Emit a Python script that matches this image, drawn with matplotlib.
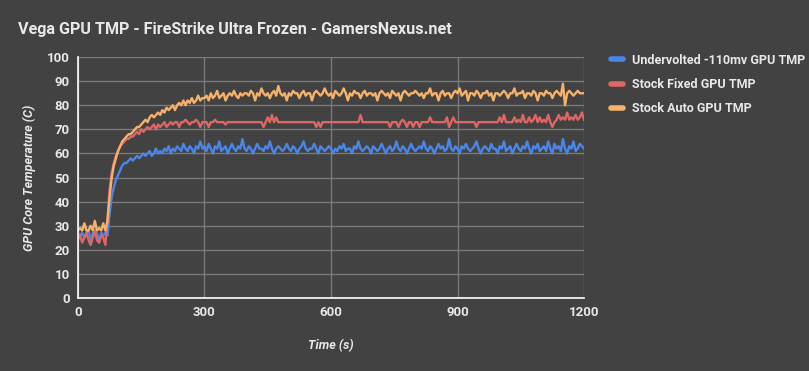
import matplotlib
matplotlib.use("Agg")
import matplotlib.pyplot as plt
import numpy as np

# time axis: one sample every 5 s, 0..1200
time_s = np.arange(0, 1205, 5)

# values (deg C)
undervolted = [
    27, 26, 27, 25, 27, 28, 24, 27, 26, 27, 23, 27, 26, 27,
    26, 35, 42, 46, 49, 51, 53, 55, 56, 56, 57, 58, 57, 58, 59, 58,
    59, 60, 59, 60, 61, 59, 60, 62, 60, 61, 60, 62, 61, 63, 60, 62,
    61, 63, 62, 61, 64, 62, 61, 63, 62, 60, 63, 62, 65, 62,
    63, 61, 64, 62, 60, 63, 62, 65, 61, 62, 63, 60, 62, 64, 62, 61, 63, 62, 66, 62,
    61, 63, 62, 60, 62, 64, 62, 62, 61, 63, 62, 65, 62, 60, 62, 63, 62, 61, 62, 64,
    62, 61, 63, 62, 60, 62, 63, 65, 62, 61, 62, 62, 64, 62, 60, 63, 62, 61, 62, 63,
    62, 60, 62, 61, 63, 62, 64, 61, 62, 62, 60, 63, 62, 65, 62, 61, 62, 63, 62, 60,
    63, 62, 61, 62, 64, 62, 60, 62, 63, 61, 62, 65, 62, 61, 63, 62, 60, 62, 64, 62,
    61, 62, 63, 62, 65, 62, 61, 63, 62, 60, 62, 64, 62, 63, 61, 62, 66, 62, 61, 63,
    62, 60, 63, 62, 64, 62, 61, 62, 63, 65, 62, 60, 62, 63, 62, 61, 64, 62, 62, 60,
    63, 62, 65, 61, 62, 63, 60, 62, 64, 62, 61, 63, 62, 65, 62, 60, 63, 62, 64, 61,
    62, 63, 61, 65, 62, 60, 64, 62, 63, 61, 66, 62, 60, 63, 62, 65, 61, 62, 64, 63,
    62,
]

stock_fixed = [
    24, 26, 23, 25, 27, 24, 22, 25, 28, 24, 23, 26, 25, 22,
    33, 45, 52, 56, 59, 61, 63, 64, 65, 66, 66, 67, 67, 68, 69, 68,
    70, 69, 70, 71, 70, 71, 72, 70, 72, 71, 72, 73, 71, 72, 73, 72,
    73, 73, 71, 73, 73, 74, 73, 72, 73, 73, 74, 73, 71, 73,
    73, 73, 71, 73, 73, 74, 73, 73, 73, 73, 72, 73, 73, 73, 73, 73, 73, 73, 73, 73,
    73, 73, 73, 73, 73, 73, 73, 73, 71, 73, 75, 73, 76, 73, 75, 73, 73, 73, 73, 73,
    73, 73, 73, 73, 73, 73, 73, 73, 73, 73, 73, 73, 73, 71, 73, 71, 73, 73, 73, 73,
    73, 73, 73, 73, 73, 73, 73, 73, 73, 73, 73, 73, 73, 73, 76, 73, 73, 73, 73, 73,
    73, 73, 73, 73, 73, 73, 73, 73, 71, 73, 73, 73, 71, 73, 74, 73, 71, 73, 73, 71,
    73, 73, 71, 73, 73, 73, 73, 75, 73, 73, 73, 73, 73, 73, 73, 75, 71, 73, 75, 73,
    73, 73, 73, 73, 73, 73, 73, 73, 73, 71, 73, 73, 73, 73, 73, 73, 73, 73, 73, 73,
    75, 73, 76, 73, 73, 73, 73, 75, 73, 74, 73, 76, 73, 73, 75, 73, 74, 76, 73, 75,
    73, 74, 73, 76, 73, 71, 73, 74, 76, 74, 75, 74, 77, 74, 75, 74, 76, 74, 75, 77,
    74,
]

stock_auto = [
    28, 29, 28, 31, 28, 28, 30, 28, 32, 28, 29, 28, 31, 28,
    32, 42, 50, 55, 58, 61, 63, 65, 66, 67, 68, 68, 69, 70, 71, 71,
    72, 73, 74, 73, 75, 76, 75, 76, 77, 76, 78, 77, 79, 78, 79, 80,
    78, 80, 81, 80, 82, 80, 82, 81, 83, 81, 82, 84, 82, 83,
    83, 84, 82, 85, 83, 84, 86, 83, 84, 85, 82, 84, 85, 84, 86, 84, 83, 85, 84, 85,
    85, 84, 86, 85, 82, 85, 84, 87, 85, 84, 85, 83, 85, 86, 84, 88, 85, 84, 85, 82,
    85, 84, 86, 85, 85, 83, 85, 86, 84, 85, 85, 82, 85, 86, 85, 84, 85, 87, 85, 84,
    85, 83, 86, 85, 84, 85, 87, 85, 82, 85, 84, 86, 85, 85, 83, 85, 86, 84, 85, 85,
    84, 85, 82, 85, 86, 85, 84, 85, 83, 86, 85, 84, 85, 82, 85, 86, 85, 84, 85, 85,
    86, 85, 84, 85, 83, 85, 85, 87, 84, 85, 85, 82, 85, 86, 84, 85, 85, 83, 85, 86,
    85, 87, 84, 85, 86, 82, 85, 85, 84, 86, 85, 83, 85, 85, 86, 84, 85, 82, 85, 85,
    84, 85, 86, 85, 83, 85, 85, 87, 84, 85, 85, 86, 83, 85, 85, 84, 86, 85, 82, 85,
    85, 84, 86, 85, 85, 83, 85, 86, 85, 84, 89, 80, 85, 86, 85, 84, 85, 86, 85, 85,
    85,
]

series_names = ["Undervolted -110mv GPU TMP", "Stock Fixed GPU TMP", "Stock Auto GPU TMP"]
colors = ["#4a86e8", "#e06666", "#f6b26b"]

bg = "#424242"
txt = "#e8e8e8"
plt.rcParams["font.family"] = ["Roboto", "DejaVu Sans"]

fig = plt.figure(figsize=(8.09, 3.71), dpi=100, facecolor=bg)
ax = fig.add_axes([0.0964, 0.197, 0.6255, 0.649], facecolor=bg)

for vals, name, c in zip([undervolted, stock_fixed, stock_auto], series_names, colors):
    ax.plot(time_s, vals, color=c, lw=1.7, label=name, solid_joinstyle="round")

ax.set_xlim(0, 1200)
ax.set_ylim(0, 100)
ax.set_xticks([0, 300, 600, 900, 1200])
ax.set_yticks(np.arange(0, 101, 10))
ax.grid(True, color="#7a7a7a", lw=1)
ax.set_axisbelow(True)
for s in ["top", "right"]:
    ax.spines[s].set_visible(False)
for s in ["left", "bottom"]:
    ax.spines[s].set_color("white")
    ax.spines[s].set_linewidth(1.2)
ax.tick_params(length=0, colors=txt, labelsize=9.5, pad=6)
for lab in ax.get_xticklabels() + ax.get_yticklabels():
    lab.set_fontweight("bold")

ax.set_xlabel("Time (s)", color=txt, fontsize=9, fontstyle="italic", fontweight="bold", labelpad=14)
ax.set_ylabel("GPU Core Temperature (C)", color=txt, fontsize=9, fontstyle="italic", fontweight="bold", labelpad=8)

fig.text(0.022, 0.92, "Vega GPU TMP - FireStrike Ultra Frozen - GamersNexus.net",
         color=txt, fontsize=11.6, fontweight="bold", va="center")

leg = ax.legend(loc="upper left", bbox_to_anchor=(1.04, 1.04), frameon=False, borderpad=0,
                fontsize=9, labelcolor=txt, handlelength=1.0, handletextpad=0.7,
                labelspacing=0.9)
for line in leg.get_lines():
    line.set_linewidth(4)
    line.set_solid_capstyle("round")
for t in leg.get_texts():
    t.set_fontweight("bold")

fig.savefig("out.png", dpi=100, facecolor=bg)
